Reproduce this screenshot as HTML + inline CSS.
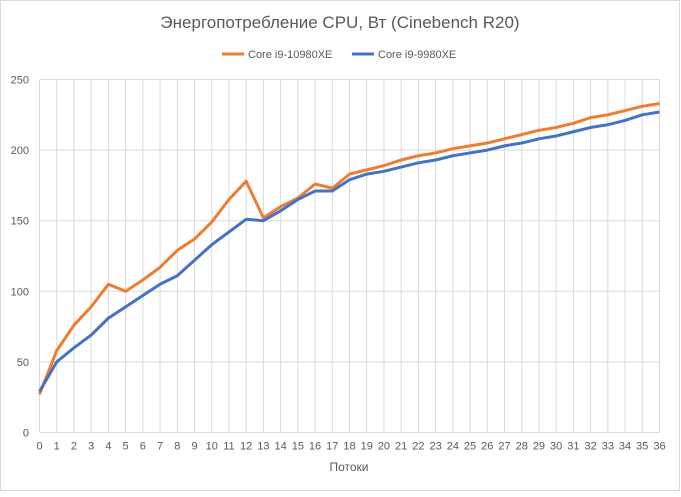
<!DOCTYPE html>
<html><head><meta charset="utf-8"><style>
body{margin:0;background:#fff;font-family:"Liberation Sans","DejaVu Sans",sans-serif;}
svg text{fill:#595959;font-family:"Liberation Sans","DejaVu Sans",sans-serif;}
</style></head><body>
<svg id="c" width="681" height="492">
<rect x="0.5" y="0.5" width="679" height="490" fill="#fff" stroke="#d9d9d9"/>
<text x="340" y="28" text-anchor="middle" font-size="17">Энергопотребление CPU, Вт (Cinebench R20)</text>
<g>
<line x1="222" y1="54" x2="244" y2="54" stroke="#ed7d31" stroke-width="3"/>
<text x="248" y="58" font-size="11">Core i9-10980XE</text>
<line x1="352" y1="54" x2="374" y2="54" stroke="#4472c4" stroke-width="3"/>
<text x="378" y="58" font-size="11">Core i9-9980XE</text>
</g>
<g id="grid"></g><g id="lines"></g>
<text x="349" y="471" text-anchor="middle" font-size="12">Потоки</text>
</svg>
<script>
const categories=[];for(let i=0;i<=36;i++)categories.push(i);
const seriesOrange=[27,58,76,89,105,100,108,117,129,137,149,165,178,152,160,166,176,173,183,186,189,193,196,198,201,203,205,208,211,214,216,219,223,225,228,231,233];
const seriesBlue=[29,50,60,69,81,89,97,105,111,122,133,142,151,150,157,165,171,171,179,183,185,188,191,193,196,198,200,203,205,208,210,213,216,218,221,225,227];
const yTicks=[0,50,100,150,200,250];
const X0=39.5,X1=659.5,Y0=432.5,Y1=79.5;
const xs=i=>X0+(X1-X0)*i/36;
const ys=v=>Y0-(Y0-Y1)*v/250;
const NS='http://www.w3.org/2000/svg';
const g=document.getElementById('grid'),L=document.getElementById('lines');
function mk(tag,at,p){const e=document.createElementNS(NS,tag);for(const k in at)e.setAttribute(k,at[k]);p.appendChild(e);return e;}
categories.forEach((c,i)=>{
 const l=mk('line',{x1:xs(i),x2:xs(i),y1:Y1,y2:Y0,stroke:'#d9d9d9'},g);
 
 
 const t=mk('text',{x:xs(i),y:Y0+17,'text-anchor':'middle','font-size':'11'},g);t.textContent=c;
 
 
});
yTicks.forEach(v=>{
 const l=mk('line',{x1:X0,x2:X1,y1:ys(v),y2:ys(v),stroke:'#d9d9d9'},g);
 
 
 const t=mk('text',{x:29,y:ys(v)+4,'text-anchor':'end','font-size':'11'},g);t.textContent=v;
 
 
});
function line(data,color,name){
 const p=mk('polyline',{points:data.map((v,i)=>xs(i)+','+ys(v)).join(' '),fill:'none',stroke:color,'stroke-width':3,'stroke-linejoin':'round'},L);
 
 
}
line(seriesOrange,'#ed7d31','series-10980xe');
line(seriesBlue,'#4472c4','series-9980xe');
</script>
</body></html>
